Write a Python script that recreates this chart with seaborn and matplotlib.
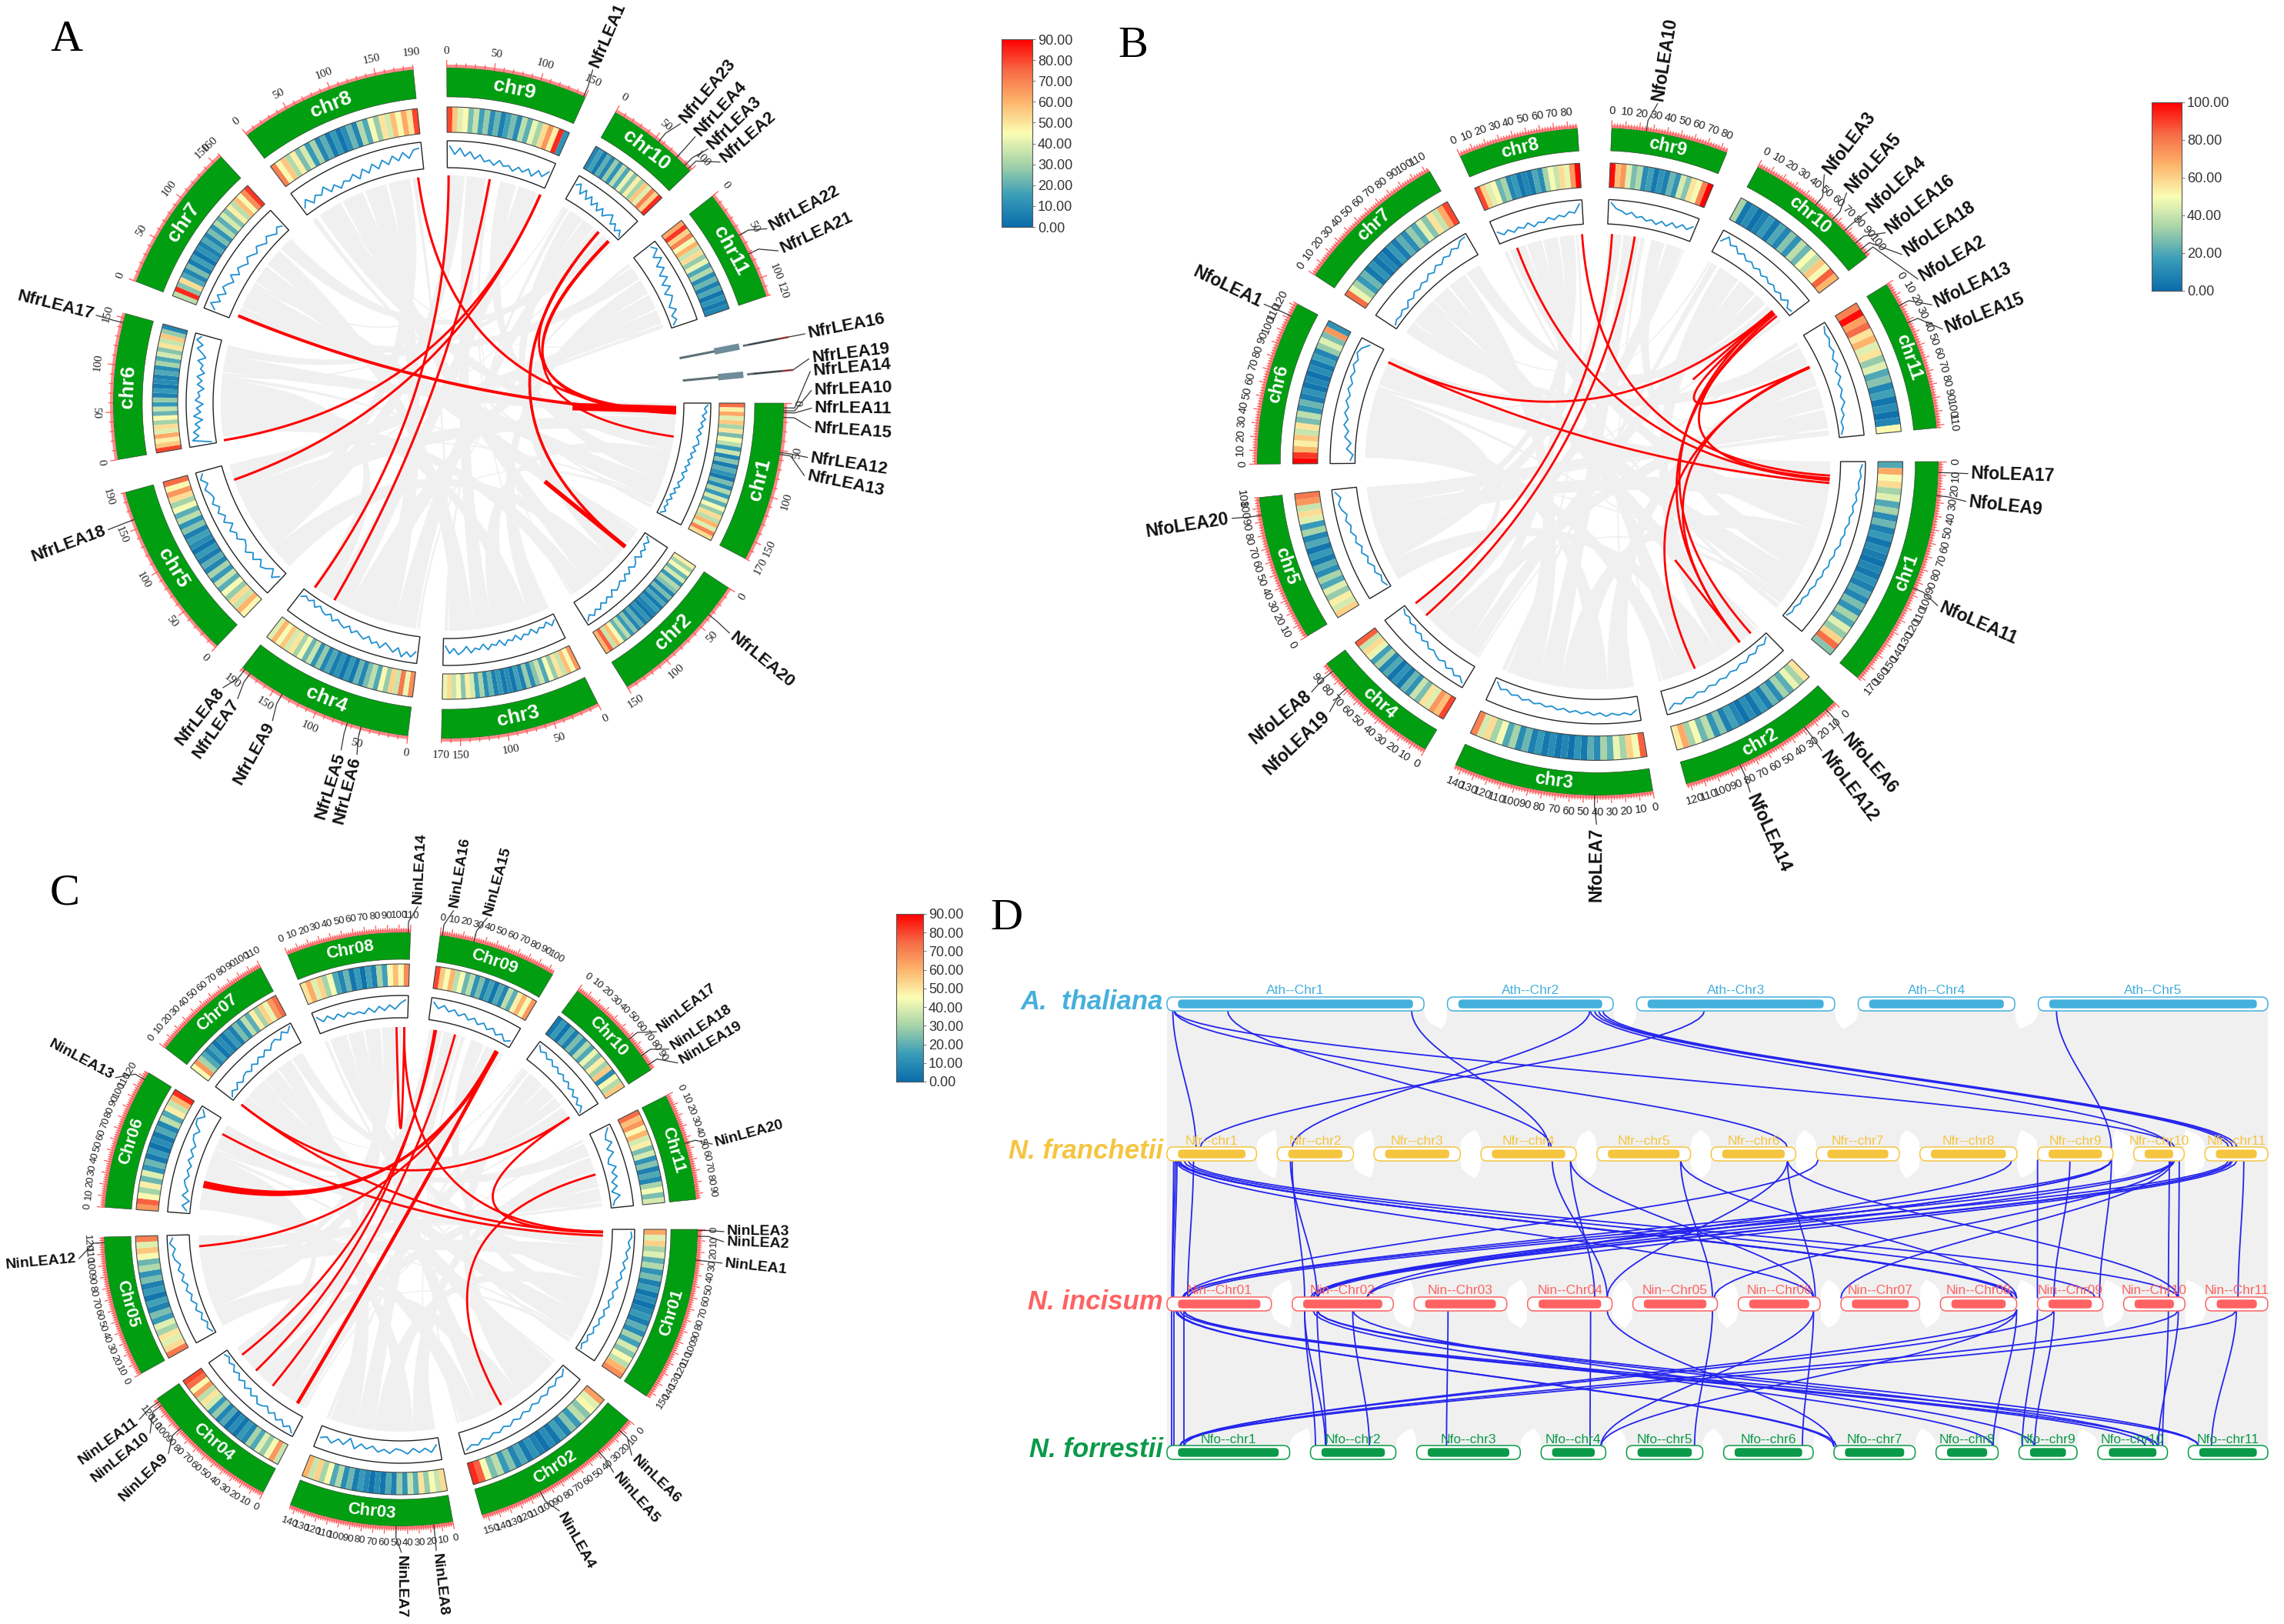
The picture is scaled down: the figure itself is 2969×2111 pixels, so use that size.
import numpy as np
import seaborn as sns
import matplotlib.pyplot as plt
from matplotlib.collections import LineCollection, PolyCollection
from matplotlib.colors import LinearSegmentedColormap, Normalize
from matplotlib.patches import FancyBboxPatch

W, H = 2969, 2111

# chromosome lengths (Mb)
A_LENGTHS = [170, 150, 170, 190, 190, 155, 160, 190, 150, 100, 120]
B_LENGTHS = [172, 123, 145, 95, 108, 122, 113, 87, 85, 103, 112]
C_LENGTHS = [155, 155, 145, 125, 125, 125, 110, 110, 105, 95, 95]

A_NAMES = [f'chr{i}' for i in range(1, 12)]
C_NAMES = [f'Chr{i:02d}' for i in range(1, 12)]

# heat tracks (gene density)
A_HEAT = [
    [74, 48, 62, 40, 56, 30, 50, 24, 44, 34, 14, 36, 8, 26, 5, 20, 12, 4, 24, 9, 32, 14, 38, 20, 44, 28, 52, 34, 60, 40, 70, 52],
    [48, 30, 44, 22, 38, 14, 32, 26, 8, 24, 6, 18, 4, 14, 7, 3, 12, 5, 20, 8, 26, 14, 34, 22, 44, 58, 36, 76, 60],
    [66, 44, 58, 36, 50, 28, 44, 18, 36, 26, 10, 28, 6, 16, 3, 10, 4, 14, 6, 22, 10, 30, 16, 38, 48, 26, 46, 36, 52, 42],
    [68, 42, 72, 36, 54, 28, 46, 18, 34, 24, 8, 22, 4, 14, 3, 12, 5, 18, 8, 28, 12, 36, 22, 44, 30, 50, 38, 56, 44, 60, 40],
    [46, 60, 36, 52, 28, 44, 20, 36, 14, 30, 8, 20, 5, 14, 3, 10, 16, 6, 26, 12, 34, 20, 44, 30, 52, 66, 46, 74],
    [80, 56, 48, 62, 40, 52, 30, 46, 22, 36, 14, 28, 6, 14, 4, 10, 6, 18, 10, 30, 18, 38, 26, 50, 36, 56, 28, 8],
    [34, 84, 26, 52, 18, 8, 24, 5, 16, 3, 12, 6, 18, 8, 24, 12, 32, 20, 38, 26, 48, 34, 58, 44, 68, 82],
    [70, 46, 56, 32, 48, 24, 38, 14, 30, 8, 20, 4, 14, 3, 10, 22, 8, 32, 18, 44, 28, 50, 38, 58, 44, 62, 50, 80],
    [80, 56, 40, 46, 24, 36, 16, 28, 10, 22, 6, 16, 24, 10, 34, 20, 42, 30, 52, 66, 48, 84, 12],
    [8, 16, 4, 20, 8, 28, 12, 34, 18, 42, 26, 48, 30, 56, 40, 70, 54, 84],
    [62, 82, 54, 70, 44, 60, 36, 52, 28, 42, 18, 32, 10, 22, 6, 18, 3, 12, 4, 8],
]
B_HEAT = [
    [18, 62, 44, 52, 30, 40, 18, 30, 10, 22, 6, 14, 3, 10, 5, 2, 8, 4, 12, 6, 18, 8, 24, 12, 30, 18, 40, 28, 54, 74, 26],
    [50, 30, 42, 20, 30, 10, 22, 5, 14, 3, 10, 2, 8, 16, 6, 26, 12, 34, 22, 44, 30, 62, 48],
    [76, 44, 54, 30, 42, 20, 30, 10, 20, 4, 12, 2, 8, 3, 10, 4, 14, 6, 22, 10, 30, 18, 44, 30, 52, 38, 70],
    [80, 58, 66, 40, 50, 24, 36, 12, 22, 4, 12, 3, 18, 8, 30, 16, 42, 52, 36, 76],
    [54, 38, 48, 28, 40, 18, 30, 10, 20, 4, 14, 3, 18, 8, 30, 14, 40, 52, 36, 66, 72],
    [94, 82, 60, 48, 56, 36, 50, 24, 34, 12, 22, 5, 12, 3, 8, 2, 10, 4, 16, 8, 28, 40, 24, 66, 12],
    [74, 42, 30, 14, 22, 4, 12, 3, 8, 2, 14, 5, 20, 10, 28, 18, 40, 26, 50, 36, 62, 80],
    [80, 54, 40, 46, 22, 30, 8, 14, 3, 8, 4, 18, 10, 30, 44, 36, 52, 42, 66, 94],
    [88, 58, 66, 40, 24, 32, 10, 16, 4, 12, 6, 22, 12, 38, 26, 50, 44, 70, 90],
    [30, 4, 10, 2, 6, 14, 4, 18, 8, 26, 12, 34, 22, 44, 34, 56, 44, 76, 60],
    [70, 88, 64, 74, 50, 60, 40, 50, 28, 40, 18, 26, 8, 16, 3, 10, 2, 8, 46],
]
C_HEAT = [
    [62, 40, 54, 30, 40, 20, 32, 12, 24, 6, 16, 3, 10, 2, 8, 14, 5, 20, 10, 30, 16, 38, 26, 46, 34, 60, 68],
    [64, 40, 46, 26, 34, 14, 26, 6, 16, 3, 10, 2, 6, 12, 4, 18, 8, 26, 14, 34, 24, 44, 76, 84],
    [52, 36, 44, 28, 50, 20, 36, 12, 28, 6, 18, 3, 10, 2, 8, 14, 5, 22, 10, 32, 18, 46, 30, 54, 36, 60],
    [36, 66, 44, 28, 40, 18, 30, 8, 14, 3, 10, 2, 18, 8, 28, 14, 38, 50, 34, 66, 46, 74, 80],
    [72, 52, 40, 50, 30, 40, 14, 24, 6, 16, 3, 14, 6, 24, 12, 32, 22, 46, 56, 40, 70],
    [66, 76, 46, 30, 48, 22, 40, 12, 22, 4, 14, 2, 10, 4, 18, 8, 34, 18, 48, 36, 60, 84],
    [46, 66, 30, 18, 8, 16, 3, 10, 4, 14, 6, 24, 12, 34, 20, 48, 30, 54, 42, 66, 74],
    [50, 62, 40, 54, 30, 44, 18, 8, 22, 3, 14, 2, 16, 6, 30, 16, 46, 58, 44, 68],
    [80, 56, 44, 60, 34, 44, 22, 34, 12, 24, 6, 16, 3, 18, 8, 34, 20, 48, 60, 44, 66],
    [4, 14, 3, 18, 6, 24, 12, 32, 18, 42, 26, 48, 30, 56, 10, 46, 32, 56],
    [74, 58, 66, 46, 60, 38, 48, 24, 38, 12, 26, 6, 18, 8, 30, 44, 24, 38],
]

# line tracks (0-100 inside the box)
A_LINE = [
    [94, 80, 90, 72, 86, 68, 78, 60, 74, 56, 66, 70, 48, 62, 44, 54, 38, 50, 34, 46, 28, 42, 36, 24, 38, 18, 30, 12, 26, 8, 20, 10, 24, 6],
    [10, 30, 16, 36, 24, 42, 20, 38, 46, 28, 50, 36, 58, 42, 54, 62, 46, 70, 56, 74, 60, 80, 68, 86, 72, 90],
    [18, 36, 12, 30, 22, 40, 16, 34, 26, 44, 20, 38, 30, 50, 24, 42, 34, 54, 28, 48, 40, 58, 30, 50, 62, 36, 56, 26],
    [58, 82, 64, 88, 54, 76, 60, 46, 72, 52, 64, 40, 58, 48, 36, 52, 30, 46, 38, 26, 42, 20, 34, 28, 14, 30, 8, 22, 12, 26],
    [22, 48, 18, 40, 52, 30, 56, 38, 62, 44, 34, 60, 48, 68, 42, 72, 54, 76, 60, 82, 66, 74, 90, 70, 94, 80],
    [14, 90, 62, 82, 54, 72, 40, 76, 46, 64, 36, 68, 50, 58, 34, 62, 44, 66, 38, 56, 48, 72, 42, 60, 84, 64, 94, 78],
    [62, 88, 54, 76, 46, 70, 58, 40, 66, 36, 56, 44, 30, 50, 38, 26, 46, 34, 22, 42, 30, 18, 38, 26],
    [22, 50, 18, 42, 28, 54, 20, 40, 14, 36, 26, 46, 18, 52, 28, 58, 32, 62, 38, 68, 44, 74, 46, 78, 82],
    [84, 50, 76, 44, 64, 36, 56, 30, 40, 22, 46, 26, 34, 16, 38, 24, 44, 20, 52, 34, 64],
    [66, 80, 42, 70, 36, 60, 30, 52, 24, 48, 22, 40, 54, 18, 34, 10, 28, 6],
    [78, 94, 60, 88, 50, 74, 40, 66, 30, 58, 22, 48, 34, 16, 40, 12, 26, 6],
]
B_LINE = [
    [92, 82, 88, 78, 84, 72, 80, 66, 74, 62, 68, 56, 62, 52, 58, 44, 50, 40, 46, 34, 40, 28, 34, 22, 28, 16, 22, 10, 16, 6],
    [8, 26, 14, 32, 22, 40, 30, 44, 36, 50, 42, 56, 46, 62, 52, 66, 58, 76, 64, 86],
    [56, 74, 62, 70, 60, 72, 56, 66, 52, 62, 50, 60, 46, 56, 44, 52, 42, 50, 38, 48, 34, 42, 26, 36, 10],
    [88, 66, 78, 56, 70, 48, 60, 52, 40, 50, 30, 42, 24, 34, 16, 26, 10, 18, 6],
    [6, 18, 8, 26, 16, 36, 24, 44, 32, 52, 42, 60, 50, 68, 56, 76, 84, 70, 92],
    [16, 4, 34, 16, 46, 32, 56, 42, 62, 50, 68, 56, 74, 62, 80, 70, 88, 76, 94, 84, 58],
    [8, 18, 12, 24, 10, 32, 20, 38, 28, 42, 32, 52, 40, 60, 48, 68, 58, 78, 66, 90, 94],
    [48, 26, 40, 20, 36, 24, 42, 18, 34, 26, 44, 30, 46, 36, 56, 48, 88],
    [92, 66, 58, 44, 56, 36, 44, 28, 38, 22, 42, 26, 48, 32, 54, 40, 62],
    [56, 90, 60, 70, 46, 60, 40, 50, 34, 46, 28, 40, 24, 34, 18, 30, 12, 34, 8, 14],
    [94, 80, 86, 70, 78, 58, 70, 48, 62, 40, 50, 34, 46, 24, 30, 12, 18, 6],
]
C_LINE = [
    [88, 92, 76, 86, 68, 80, 60, 74, 56, 68, 46, 60, 40, 52, 34, 48, 28, 42, 24, 36, 18, 30, 10, 24, 6, 18],
    [8, 28, 14, 34, 20, 40, 28, 44, 30, 50, 36, 56, 42, 62, 48, 66, 54, 74, 60, 82, 70, 88],
    [28, 62, 38, 56, 34, 60, 42, 34, 58, 40, 56, 30, 48, 28, 58, 12, 50, 30, 60, 38, 52],
    [92, 66, 84, 58, 76, 50, 68, 44, 60, 66, 38, 56, 30, 50, 24, 42, 18, 34, 10, 24, 6, 18],
    [6, 22, 8, 30, 14, 38, 22, 44, 30, 52, 36, 60, 44, 68, 52, 76, 84, 68, 94, 78],
    [12, 36, 4, 42, 18, 36, 46, 28, 44, 30, 54, 36, 58, 42, 66, 74, 54, 88, 94, 66, 92],
    [8, 28, 12, 36, 16, 34, 40, 24, 48, 30, 54, 38, 62, 44, 68, 76, 58, 90, 70, 94],
    [76, 44, 64, 38, 58, 34, 52, 36, 44, 30, 54, 30, 56, 34, 60, 38, 66, 84],
    [84, 56, 76, 50, 66, 42, 60, 36, 54, 30, 48, 24, 42, 18, 36, 10, 26],
    [88, 66, 80, 58, 72, 50, 64, 44, 58, 38, 52, 30, 46, 22, 38, 14, 30, 6],
    [88, 66, 54, 78, 42, 68, 34, 24, 58, 30, 50, 18, 40, 8, 46, 16, 6],
]

# collinear gene pairs: chr, pos, chr, pos, line width
A_LINKS = [
    (8, 180, 1, 15, 2.2), (9, 2, 4, 178, 2.2), (9, 66, 4, 142, 2.2), (9, 148, 6, 2, 2.2), (9, 148, 5, 164, 2.2),
    (10, 70, 2, 35, 2.6), (10, 92, 1, 52, 2.0), (10, 70, 1, 12, 2.0), (7, 8, 1, 14, 2.8), (10, 90, 1, 16, 2.0),
    (2, 35, 2, 35, 4.0), (1, 10, 1, 10, 7.0),
]
B_LINKS = [
    (8, 85, 1, 15, 2.0), (9, 5, 4, 90, 2.0), (9, 29, 4, 73, 2.0), (8, 15, 1, 20, 2.0), (6, 112, 1, 23, 2.0),
    (6, 112, 10, 88, 2.0), (10, 88, 2, 12, 2.0), (10, 92, 2, 27, 2.0), (10, 95, 1, 18, 2.0), (11, 33, 2, 82, 2.0),
    (11, 32, 2, 27, 2.0), (11, 32, 10, 90, 2.0), (10, 88, 10, 88, 2.0), (2, 27, 2, 27, 2.0),
]
C_LINKS = [
    (8, 96, 8, 106, 2.0), (8, 106, 1, 3, 2.0), (9, 11, 4, 109, 2.0), (9, 9, 4, 82, 2.0), (9, 36, 4, 53, 2.0),
    (9, 94, 4, 14, 3.2), (9, 94, 6, 39, 2.4), (9, 93, 6, 36, 2.4), (9, 95, 6, 42, 2.4), (9, 92, 5, 110, 2.0),
    (7, 2, 1, 3, 2.0), (6, 108, 1, 8, 2.0), (7, 2, 10, 90, 2.0), (10, 90, 1, 4, 2.0), (11, 50, 2, 92, 2.0),
]

# background synteny, chr and percent of chr on both ends
GRAY_RIBBONS = [
    (1, 0, 14, 6, 70, 88), (1, 14, 30, 5, 55, 78), (1, 30, 44, 8, 8, 26), (1, 44, 58, 3, 35, 55),
    (1, 58, 72, 9, 55, 72), (1, 72, 90, 7, 15, 38), (2, 4, 24, 7, 42, 60), (2, 24, 42, 10, 15, 38),
    (2, 42, 60, 5, 2, 22), (2, 60, 78, 8, 30, 48), (2, 78, 96, 6, 5, 25), (3, 3, 20, 11, 28, 48),
    (3, 20, 35, 6, 25, 45), (3, 55, 72, 9, 20, 40), (3, 72, 92, 7, 62, 80), (4, 4, 22, 10, 40, 60),
    (4, 22, 40, 8, 50, 68), (4, 40, 60, 11, 50, 70), (4, 62, 80, 9, 75, 95), (4, 80, 96, 6, 45, 62),
    (5, 22, 42, 9, 2, 18), (5, 42, 55, 8, 70, 88), (5, 80, 96, 11, 72, 90), (6, 88, 97, 10, 62, 75),
    (7, 2, 14, 11, 8, 26), (7, 82, 96, 10, 78, 95), (1, 92, 95, 4, 60, 62), (2, 97, 99, 9, 42, 44),
    (3, 92, 95, 8, 90, 93), (5, 96, 99, 1, 90, 92), (6, 62, 66, 2, 1, 3), (8, 26, 28, 11, 92, 94),
    (9, 44, 47, 3, 1, 3), (10, 96, 99, 5, 43, 45), (11, 2, 6, 4, 1, 3), (7, 38, 41, 9, 96, 98),
    (8, 1, 5, 1, 96, 99), (10, 5, 12, 3, 96, 99), (11, 92, 97, 5, 78, 80), (6, 66, 69, 10, 2, 4),
]

# gene labels: name, chr, pos, label angle
A_GENES = [
    ('NfrLEA1', 9, 148, 293.4), ('NfrLEA23', 10, 55, 309.7), ('NfrLEA4', 10, 80, 312.8), ('NfrLEA3', 10, 92, 315.6),
    ('NfrLEA2', 10, 97, 318.4), ('NfrLEA22', 11, 50, 331.3), ('NfrLEA21', 11, 72, 335.2), ('NfrLEA16', 12, 0, 349),
    ('NfrLEA19', 13, 0, 353), ('NfrLEA14', 1, 5, 355), ('NfrLEA10', 1, 8, 358), ('NfrLEA11', 1, 10, 0.8),
    ('NfrLEA15', 1, 15, 3.9), ('NfrLEA12', 1, 52, 8.6), ('NfrLEA13', 1, 54, 11.5), ('NfrLEA20', 2, 35, 39.3),
    ('NfrLEA6', 4, 50, 104.6), ('NfrLEA5', 4, 65, 107.2), ('NfrLEA9', 4, 140, 119), ('NfrLEA7', 4, 180, 125.5),
    ('NfrLEA8', 4, 187, 128.4), ('NfrLEA18', 5, 160, 159.6), ('NfrLEA17', 6, 145, 194),
]
B_GENES = [
    ('NfoLEA10', 9, 25, 279.3), ('NfoLEA3', 10, 50, 307.7), ('NfoLEA5', 10, 66, 312.2), ('NfoLEA4', 10, 78, 316.6),
    ('NfoLEA16', 10, 90, 320.9), ('NfoLEA18', 10, 96, 325.2), ('NfoLEA2', 10, 100, 329.8), ('NfoLEA13', 11, 18, 334.4),
    ('NfoLEA15', 11, 32, 338.6), ('NfoLEA17', 1, 8, 1.9), ('NfoLEA9', 1, 25, 6.3), ('NfoLEA11', 1, 95, 23.4),
    ('NfoLEA6', 2, 8, 48.5), ('NfoLEA12', 2, 28, 52.8), ('NfoLEA14', 2, 82, 65.7), ('NfoLEA7', 3, 42, 90.2),
    ('NfoLEA19', 4, 72, 136.4), ('NfoLEA8', 4, 88, 140.6), ('NfoLEA20', 5, 95, 171), ('NfoLEA1', 6, 112, 205.7),
]
C_GENES = [
    ('NinLEA14', 8, 108, 273), ('NinLEA16', 9, 2, 279.4), ('NinLEA15', 9, 30, 285.5), ('NinLEA17', 10, 62, 322.3),
    ('NinLEA18', 10, 80, 326.1), ('NinLEA19', 10, 90, 329), ('NinLEA20', 11, 45, 344.7), ('NinLEA3', 1, 1, 0.4),
    ('NinLEA2', 1, 6, 2.2), ('NinLEA1', 1, 27, 6), ('NinLEA6', 2, 12, 44.4), ('NinLEA5', 2, 38, 48.8),
    ('NinLEA4', 2, 100, 60.6), ('NinLEA8', 3, 17, 83.7), ('NinLEA7', 3, 50, 89.9), ('NinLEA9', 4, 92, 136),
    ('NinLEA10', 4, 118, 140.9), ('NinLEA11', 4, 122, 144), ('NinLEA12', 5, 120, 174.8), ('NinLEA13', 6, 118, 208),
]

# panel D rows
ATH_LENGTHS = [310, 200, 239, 189, 277]
NFR_LENGTHS = [108, 92, 104, 115, 113, 102, 100, 117, 91, 61, 76]
NIN_LENGTHS = [126, 122, 112, 102, 102, 99, 95, 92, 79, 74, 75]
NFO_LENGTHS = [148, 103, 125, 78, 92, 108, 98, 75, 70, 84, 96]

ATH_NFR = [
    (1, 7, 1, 35), (1, 8, 6, 92), (1, 8, 10, 50), (1, 73, 4, 85), (1, 295, 4, 82), (2, 172, 2, 18), (3, 82, 1, 40),
    (2, 172, 10, 45), (2, 177, 11, 29), (2, 187, 11, 39), (2, 182, 11, 34), (5, 22, 9, 89),
]
NFR_NIN = [
    (1, 8, 1, 6), (1, 10, 1, 6), (1, 12, 1, 8), (1, 32, 1, 25), (1, 10, 6, 91), (1, 12, 8, 87), (1, 13, 8, 88),
    (1, 15, 8, 92), (1, 20, 9, 70), (1, 25, 10, 66), (2, 16, 2, 30), (2, 18, 2, 15), (4, 86, 4, 96), (4, 108, 4, 81),
    (4, 108, 6, 91), (5, 101, 5, 96), (5, 101, 8, 92), (6, 92, 4, 96), (6, 92, 6, 93), (6, 92, 10, 66), (7, 2, 1, 20),
    (8, 111, 2, 90), (9, 0, 9, 0), (9, 39, 9, 20), (9, 89, 9, 75), (9, 89, 1, 20), (9, 89, 2, 25), (9, 89, 2, 30),
    (10, 43, 10, 54), (10, 55, 10, 66), (10, 45, 5, 98), (10, 47, 7, 0), (10, 50, 2, 25), (11, 29, 1, 25),
    (11, 34, 2, 30), (11, 39, 2, 90), (11, 47, 11, 39), (10, 48, 1, 18), (11, 32, 2, 22),
]
NIN_NFO = [
    (1, 6, 1, 6), (1, 8, 1, 8), (1, 20, 1, 20), (1, 10, 7, 0), (1, 12, 7, 3), (1, 15, 10, 58), (1, 20, 10, 73),
    (1, 20, 11, 13), (2, 15, 2, 6), (2, 30, 2, 19), (2, 15, 2, 18), (2, 25, 8, 69), (2, 30, 10, 68), (2, 30, 11, 13),
    (2, 73, 2, 71), (2, 73, 9, 19), (3, 41, 3, 36), (4, 76, 4, 59), (4, 96, 7, 0), (5, 96, 5, 82), (6, 91, 6, 95),
    (6, 91, 4, 72), (8, 92, 8, 69), (8, 92, 1, 20), (8, 92, 4, 72), (9, 0, 9, 4), (9, 20, 9, 19), (9, 20, 1, 15),
    (10, 54, 10, 78), (10, 66, 10, 73), (10, 66, 1, 15), (11, 37, 11, 28), (11, 37, 1, 15),
]

GREEN = '#009e10'
PINK = '#ff8c8c'
TICK_RED = '#ff5555'
LINE_BLUE = '#1f8fd0'
RIBBON = '#f0f0f0'
HEAT_CMAP = LinearSegmentedColormap.from_list(
    'density', ['#0a6cab', '#3a9db8', '#a6d3a8', '#fbfdb4', '#fdb56c', '#f66a45', '#ff0000'])

sns.set_theme(style='white', font='Liberation Sans')
fig = plt.figure(figsize=(W / 100, H / 100), dpi=100)
base = fig.add_axes([0, 0, 1, 1])
base.set_xlim(0, W)
base.set_ylim(H, 0)
base.axis('off')


def polar(deg, r):
    a = np.deg2rad(deg)
    return r * np.cos(a), r * np.sin(a)


def band(a0, a1, r0, r1):
    ang = np.linspace(a0, a1, max(2, int(abs(a1 - a0)) + 2))
    x0, y0 = polar(ang, r1)
    x1, y1 = polar(ang[::-1], r0)
    return np.column_stack([np.r_[x0, x1], np.r_[y0, y1]])


def tangent_rot(deg):
    rot = (-deg - 90) % 360
    return rot - 180 if 90 < rot <= 270 else rot


def draw_circos(center, rx, ry, lengths, names, heat, line, links, genes, radii, tail=5.8, major=10, minor=2,
                scaffolds=(), tick_font='Liberation Sans', tick_size=10.5, name_size=19, label_r=476, label_size=16):
    r_out, r_in, h_out, h_in, b_out, b_in, r_link = radii
    half = 600
    ax = fig.add_axes([(center[0] - half * rx / r_out) / W, 1 - (center[1] + half * ry / r_out) / H,
                       2 * half * rx / r_out / W, 2 * half * ry / r_out / H])
    ax.set_xlim(-half, half)
    ax.set_ylim(half, -half)
    ax.axis('off')
    ax.patch.set_alpha(0)

    gap = 5.75
    scale = (360 - gap * (len(lengths) - 1) - tail) / sum(lengths)
    starts = [sum(lengths[:i]) * scale + i * gap for i in range(len(lengths))]

    def angle(ch, pos):
        if ch > len(lengths):
            return scaffolds[ch - len(lengths) - 1]
        return starts[ch - 1] + pos * scale

    # gray ribbons first, bezier through the centre
    t = np.linspace(0, 1, 40)[:, None]
    polys = []
    for c0, s0, e0, c1, s1, e1 in GRAY_RIBBONS:
        a = [angle(c0, s0 / 100 * lengths[c0 - 1]), angle(c0, e0 / 100 * lengths[c0 - 1])]
        b = [angle(c1, s1 / 100 * lengths[c1 - 1]), angle(c1, e1 / 100 * lengths[c1 - 1])]
        pa0, pa1 = [np.array(polar(v, r_link)) for v in a]
        pb0, pb1 = [np.array(polar(v, r_link)) for v in b]
        edge0 = (1 - t) ** 2 * pa1 + t ** 2 * pb0
        edge1 = (1 - t) ** 2 * pb1 + t ** 2 * pa0
        arc_b = np.column_stack(polar(np.linspace(b[0], b[1], 8), r_link))
        arc_a = np.column_stack(polar(np.linspace(a[0], a[1], 8), r_link))
        polys.append(np.vstack([arc_a, edge0, arc_b, edge1]))
    ax.add_collection(PolyCollection(polys, facecolors=RIBBON, edgecolors='none', zorder=1))

    # red links, a link to the same place stops short like in the original
    for c0, p0, c1, p1, lw in links:
        q0 = np.array(polar(angle(c0, p0), r_link))
        q1 = np.array(polar(angle(c1, p1), r_link))
        tt = np.linspace(0, 0.35, 20)[:, None] if (c0, p0) == (c1, p1) else t
        xy = (1 - tt) ** 2 * q0 + tt ** 2 * q1
        ax.plot(xy[:, 0], xy[:, 1], color='#ff0000', lw=lw, solid_capstyle='butt', zorder=3)

    heat_polys, heat_vals, ticks = [], [], []
    for i, size in enumerate(lengths):
        a0, a1 = starts[i], starts[i] + size * scale
        # green bar, pink scale
        ax.fill(*band(a0, a1, r_in, r_out).T, color=GREEN, ec='#333333', lw=0.4, zorder=4)
        ax.fill(*band(a0, a1, r_out, r_out + 4).T, color=PINK, lw=0, zorder=4)
        mid = (a0 + a1) / 2
        ax.text(*polar(mid, (r_in + r_out) / 2), names[i], color='white', fontsize=name_size, fontweight='bold',
                ha='center', va='center', rotation=tangent_rot(mid), rotation_mode='anchor', zorder=6)

        for v in range(0, size + 1, minor):
            tl = 10 if v % major == 0 else 6
            ticks.append([polar(angle(i + 1, v), r_out), polar(angle(i + 1, v), r_out + tl)])
        shown = list(range(0, size + 1, major))
        if size % major >= 8:
            shown.append(size)
        for v in shown:
            ang = angle(i + 1, v)
            ax.text(*polar(ang, r_out + 22), str(v), fontsize=tick_size, family=tick_font, color='#222222',
                    ha='center', va='center', rotation=tangent_rot(ang), rotation_mode='anchor', zorder=6)

        # heat track
        vals = heat[i]
        for k, v in enumerate(vals):
            heat_polys.append(band(a0 + (a1 - a0) * k / len(vals), a0 + (a1 - a0) * (k + 1) / len(vals), h_in, h_out))
            heat_vals.append(v)
        ax.fill(*band(a0, a1, h_in, h_out).T, fc='none', ec='#444444', lw=0.8, zorder=5)

        # line track
        ax.fill(*band(a0, a1, b_in, b_out).T, fc='white', ec='#222222', lw=1.0, zorder=4)
        pts = line[i]
        ang = a0 + (a1 - a0) * (np.arange(len(pts)) + 0.5) / len(pts)
        rad = b_in + (b_out - b_in) * (0.05 + 0.9 * np.array(pts) / 100)
        lx, ly = polar(ang, rad)
        sns.lineplot(x=lx, y=ly, ax=ax, sort=False, estimator=None, color=LINE_BLUE, lw=1.3, legend=False, zorder=5)

    heat_pc = PolyCollection(heat_polys, array=np.array(heat_vals, dtype=float), cmap=HEAT_CMAP,
                             norm=Normalize(0, 90), edgecolors='none', zorder=4)
    ax.add_collection(heat_pc)
    ax.add_collection(LineCollection(ticks, colors=TICK_RED, linewidths=0.9, zorder=4))

    # two tiny scaffolds of panel A
    for deg in scaffolds:
        for r0, r1, col, lw in [(b_in, b_out + 15, '#5f6f76', 2.2), (h_in, h_out, '#6f8c9a', 6),
                                (r_in - 8, r_out, '#5f6f76', 2.0), (r_out, r_out + 14, '#ff6060', 2.0)]:
            ax.plot(*np.array([polar(deg, r0), polar(deg, r1)]).T, color=col, lw=lw, solid_capstyle='butt', zorder=5)

    # gene labels and leaders
    for name, ch, pos, deg in genes:
        g = angle(ch, pos)
        start = r_in if ch > len(lengths) else r_out
        xy = np.array([polar(g, start), polar(g, r_out + 14), polar(deg, label_r - 4)])
        ax.plot(xy[:, 0], xy[:, 1], color='#333333', lw=0.9, zorder=6)
        rot = -deg
        ha = 'left'
        if np.cos(np.deg2rad(deg)) < 0:
            rot += 180
            ha = 'right'
        ax.text(*polar(deg, label_r), name, fontsize=label_size, fontweight='bold', color='#111111', ha=ha, va='center',
                rotation=rot, rotation_mode='anchor', zorder=7)
    ax.set_xlim(-half, half)
    ax.set_ylim(half, -half)


def draw_colorbar(x0, y0, x1, y1, vmax, step):
    cax = fig.add_axes([x0 / W, 1 - y1 / H, (x1 - x0) / W, (y1 - y0) / H])
    gradient = np.linspace(vmax, 0, 256)[:, None]
    sns.heatmap(gradient, ax=cax, cmap=HEAT_CMAP, vmin=0, vmax=vmax, cbar=False, xticklabels=False, yticklabels=False)
    values = np.arange(0, vmax + 1, step)
    cax.set_yticks((vmax - values) / vmax * 256)
    cax.set_yticklabels([f'{v:.2f}' for v in values], fontsize=13, color='#333333', rotation=0)
    cax.yaxis.tick_right()
    cax.tick_params(axis='y', length=3, width=0.7, color='#777777', pad=2, right=True)
    for sp in cax.spines.values():
        sp.set_visible(True)
        sp.set_color('#555555')
        sp.set_linewidth(0.8)


draw_circos((583, 524), 436, 436, A_LENGTHS, A_NAMES, A_HEAT, A_LINE, A_LINKS, A_GENES,
            (436, 398, 385, 352, 341, 306, 296), tail=18.6, major=50, minor=10, scaffolds=(349, 354.5),
            tick_font='Liberation Serif', tick_size=11, name_size=19)
draw_circos((2077, 600), 443, 434, B_LENGTHS, A_NAMES, B_HEAT, B_LINE, B_LINKS, B_GENES,
            (438, 408, 392, 360, 344, 312, 299), name_size=17, label_r=480, label_size=16.5)
draw_circos((521, 1598), 386, 386, C_LENGTHS, C_NAMES, C_HEAT, C_LINE, C_LINKS, C_GENES,
            (386, 351, 345, 316, 304, 275, 263), name_size=16, tick_size=9.5, label_r=424, label_size=14)

draw_colorbar(1302, 51, 1342, 295, 90, 10)
draw_colorbar(2797, 133, 2836, 378, 100, 20)
draw_colorbar(1165, 1188, 1200, 1406, 90, 10)

for letter, x, y in [('A', 86, 52), ('B', 1473, 60), ('C', 84, 1162), ('D', 1308, 1194)]:
    base.text(x, y, letter, fontsize=42, family='Liberation Serif', color='black', ha='center', va='center')

# panel D, rows of chromosomes
x_left, x_span, unit = 1517, 1431, 1 / 0.928
row_y = [1305, 1500, 1695, 1888]
rows = [
    ('A.  thaliana', 'Ath--Chr', ATH_LENGTHS, '#45b0dc', False),
    ('N. franchetii', 'Nfr--chr', NFR_LENGTHS, '#f5c540', False),
    ('N. incisum', 'Nin--Chr', NIN_LENGTHS, '#ff6262', True),
    ('N. forrestii', 'Nfo--chr', NFO_LENGTHS, '#0a9a48', False),
]
row_starts = []
for _, _, lengths, _, _ in rows:
    gap_px = (x_span - sum(lengths) * unit) / (len(lengths) - 1)
    row_starts.append([x_left + sum(lengths[:i]) * unit + i * gap_px for i in range(len(lengths))])

# ribbons between rows, every chromosome to every chromosome
s = np.linspace(0, 1, 32)[:, None]
bez = 3 * (1 - s) * s ** 2 + s ** 3
steep = 6 * s ** 5 - 15 * s ** 4 + 10 * s ** 3
d_polys = []
for r in range(3):
    top, bot = rows[r][2], rows[r + 1][2]
    y0, y1 = row_y[r] + 8, row_y[r + 1] - 8
    yy = y0 + (y1 - y0) * s
    for i, a in enumerate(top):
        for j, b in enumerate(bot):
            xa0, xa1 = row_starts[r][i], row_starts[r][i] + a * unit
            xb0, xb1 = row_starts[r + 1][j], row_starts[r + 1][j] + b * unit
            left = np.hstack([xa0 + (xb0 - xa0) * steep, yy])
            right = np.hstack([xa1 + (xb1 - xa1) * steep, yy])
            d_polys.append(np.vstack([left, right[::-1]]))
base.add_collection(PolyCollection(d_polys, facecolors=RIBBON, edgecolors='none', zorder=1))

for r, pairs in enumerate([ATH_NFR, NFR_NIN, NIN_NFO]):
    y0, y1 = row_y[r] + 8, row_y[r + 1] - 8
    for c0, p0, c1, p1 in pairs:
        xa = row_starts[r][c0 - 1] + p0 * unit
        xb = row_starts[r + 1][c1 - 1] + p1 * unit
        base.plot(xa + (xb - xa) * bez[:, 0], y0 + (y1 - y0) * s[:, 0], color='#2424ee', lw=1.3, zorder=2)

for r, (species, prefix, lengths, col, _) in enumerate(rows):
    y = row_y[r]
    base.text(x_left - 5, y - 3, species, fontsize=25, fontweight='bold', style='italic', color=col, ha='right',
              va='center', zorder=5)
    for i, size in enumerate(lengths):
        x = row_starts[r][i]
        wd = size * unit
        base.add_patch(FancyBboxPatch((x + 4, y - 5), wd - 8, 10, boxstyle='round,pad=4,rounding_size=8', fc='white',
                                      ec=col, lw=1.1, zorder=4))
        base.add_patch(FancyBboxPatch((x + 17, y - 3), wd - 34, 6, boxstyle='round,pad=2,rounding_size=4', fc=col,
                                      ec=col, lw=1.0, zorder=5))
        base.text(x + wd / 2, y - 17, f'{prefix}{i + 1:02d}' if prefix == 'Nin--Chr' else f'{prefix}{i + 1}',
                  fontsize=12.5, color=col, ha='center', va='center', zorder=6)

fig.savefig('out.png', dpi=100)
